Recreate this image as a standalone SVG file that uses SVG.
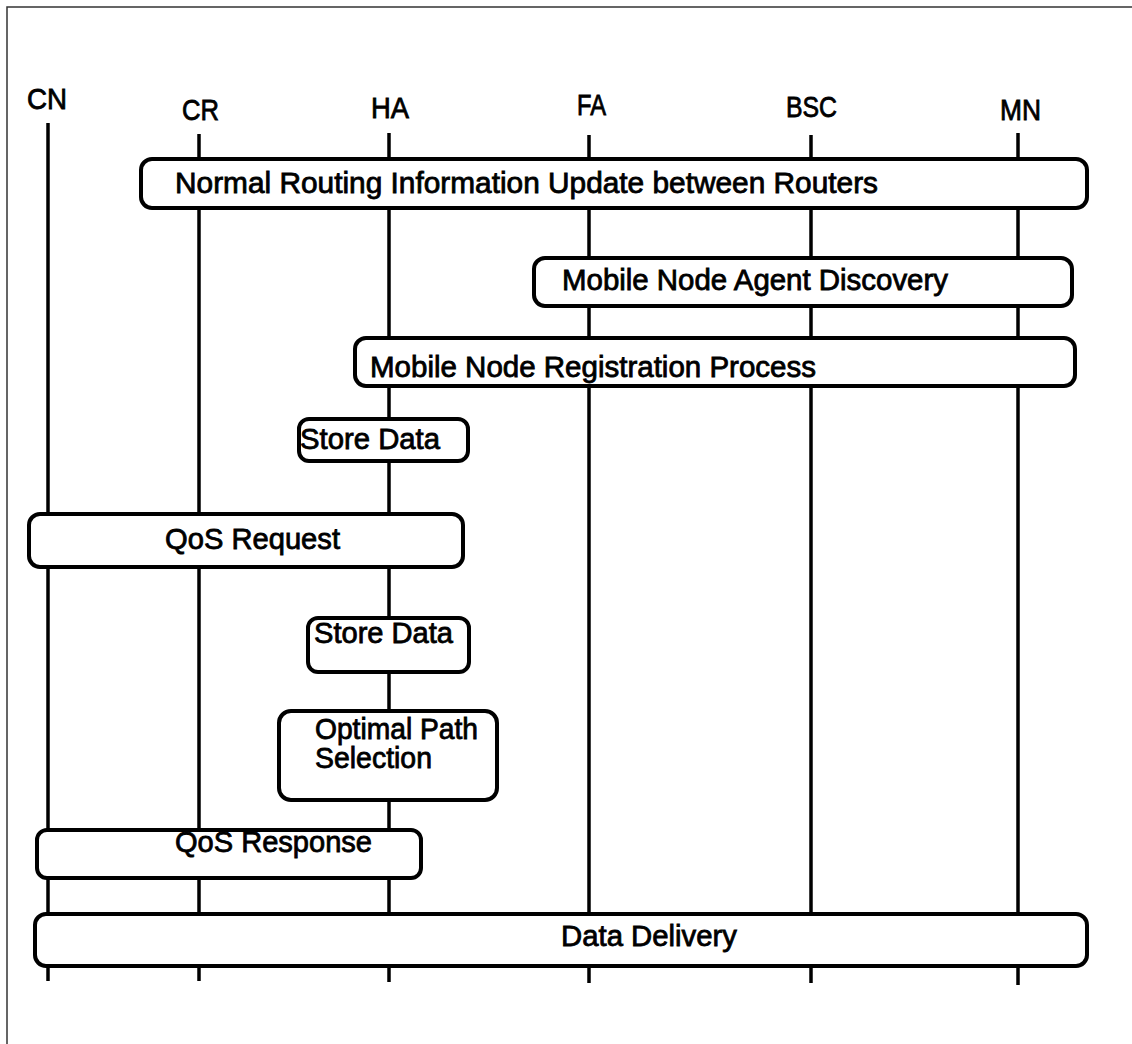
<svg xmlns="http://www.w3.org/2000/svg" width="1132" height="1044" viewBox="0 0 1132 1044">
  <style>
    .frame { fill: none; stroke: #333; stroke-width: 1.5; }
    .life { stroke: #000; stroke-width: 3.5; fill: none; }
    .box { fill: #fff; stroke: #000; stroke-width: 4; }
    .lbl { font-family: "Liberation Sans", Arial, sans-serif; font-size: 29px; fill: #000; stroke: #000; stroke-width: 0.8; }
  </style>
  <rect width="1132" height="1044" fill="#fff"/>
  <!-- open frame: top and left edges only -->
  <path class="frame" d="M1132,7 H7 V1044"/>

  <!-- participant headers -->
  <g id="participant-CN"><text class="lbl" x="27" y="109" textLength="40" lengthAdjust="spacingAndGlyphs">CN</text></g>
  <g id="participant-CR"><text class="lbl" x="182" y="120" textLength="37" lengthAdjust="spacingAndGlyphs">CR</text></g>
  <g id="participant-HA"><text class="lbl" x="371" y="118" textLength="38" lengthAdjust="spacingAndGlyphs">HA</text></g>
  <g id="participant-FA"><text class="lbl" x="577" y="115" textLength="29" lengthAdjust="spacingAndGlyphs">FA</text></g>
  <g id="participant-BSC"><text class="lbl" x="786" y="117" textLength="51" lengthAdjust="spacingAndGlyphs">BSC</text></g>
  <g id="participant-MN"><text class="lbl" x="1000" y="120" textLength="41" lengthAdjust="spacingAndGlyphs">MN</text></g>

  <!-- lifelines -->
  <g id="connectors">
    <line class="life" x1="48" y1="123" x2="48" y2="981"/>
    <line class="life" x1="199" y1="134" x2="199" y2="981"/>
    <line class="life" x1="389" y1="133" x2="389" y2="982"/>
    <line class="life" x1="589" y1="135" x2="589" y2="983"/>
    <line class="life" x1="811" y1="135" x2="811" y2="983"/>
    <line class="life" x1="1018" y1="133" x2="1018" y2="985"/>
  </g>

  <!-- activity boxes -->
  <g id="routing-update">
    <rect class="box" x="141" y="159" width="946" height="49" rx="11"/>
    <text class="lbl" x="175" y="193" textLength="703" lengthAdjust="spacingAndGlyphs">Normal Routing Information Update between Routers</text>
  </g>
  <g id="agent-discovery">
    <rect class="box" x="534" y="258" width="538" height="48" rx="11"/>
    <text class="lbl" x="562" y="290" textLength="386" lengthAdjust="spacingAndGlyphs">Mobile Node Agent Discovery</text>
  </g>
  <g id="registration">
    <rect class="box" x="355" y="338" width="720" height="48" rx="11"/>
    <text class="lbl" x="370" y="377" textLength="446" lengthAdjust="spacingAndGlyphs">Mobile Node Registration Process</text>
  </g>
  <g id="store-data-1">
    <rect class="box" x="299" y="419" width="169" height="42" rx="10"/>
    <text class="lbl" x="300" y="449" textLength="140" lengthAdjust="spacingAndGlyphs">Store Data</text>
  </g>
  <g id="qos-request">
    <rect class="box" x="29" y="514" width="434" height="53" rx="11"/>
    <text class="lbl" x="165" y="549" textLength="175" lengthAdjust="spacingAndGlyphs">QoS Request</text>
  </g>
  <g id="store-data-2">
    <rect class="box" x="308" y="618" width="161" height="54" rx="10"/>
    <text class="lbl" x="314" y="643" textLength="139" lengthAdjust="spacingAndGlyphs">Store Data</text>
  </g>
  <g id="path-selection">
    <rect class="box" x="279" y="711" width="218" height="89" rx="12"/>
    <text class="lbl" x="315" y="739" textLength="163" lengthAdjust="spacingAndGlyphs">Optimal Path</text>
    <text class="lbl" x="315" y="768" textLength="117" lengthAdjust="spacingAndGlyphs">Selection</text>
  </g>
  <g id="qos-response">
    <rect class="box" x="37" y="830" width="384" height="48" rx="10"/>
    <text class="lbl" x="175" y="852" textLength="197" lengthAdjust="spacingAndGlyphs">QoS Response</text>
  </g>
  <g id="data-delivery">
    <rect class="box" x="35" y="914" width="1052" height="52" rx="11"/>
    <text class="lbl" x="561" y="946" textLength="176" lengthAdjust="spacingAndGlyphs">Data Delivery</text>
  </g>
</svg>
